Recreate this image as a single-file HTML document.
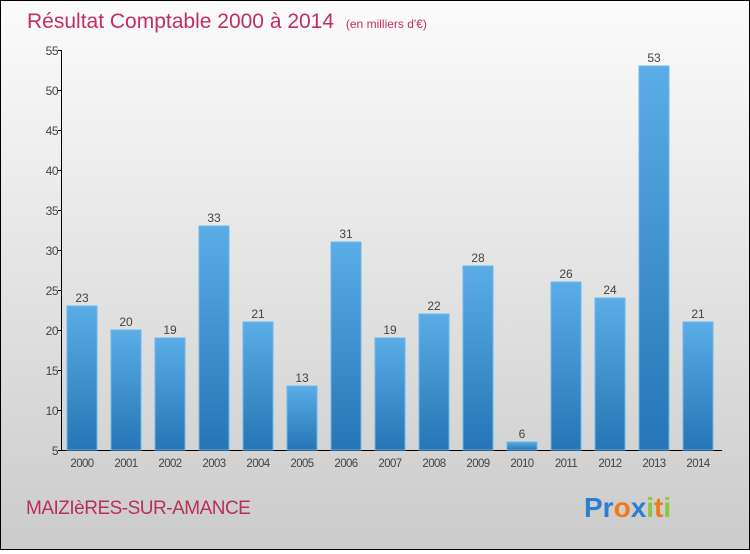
<!DOCTYPE html>
<html><head><meta charset="utf-8"><style>
html,body{margin:0;padding:0}
body{width:750px;height:550px;overflow:hidden;font-family:"Liberation Sans",sans-serif}
#wrap{position:absolute;left:0;top:0;width:748px;height:548px;border:1px solid #000;background:linear-gradient(#fbfbfb,#f2f2f2 20%,#cbcbcb)}
</style></head><body>
<div id="wrap">
<svg width="748" height="548" xmlns="http://www.w3.org/2000/svg">
<defs><linearGradient id="bg" x1="0" y1="0" x2="0" y2="1"><stop offset="0" stop-color="#5aade6"/><stop offset="1" stop-color="#2675b5"/></linearGradient></defs>
<text x="26" y="27" font-size="21" fill="#c0305e">Résultat Comptable 2000 à 2014 <tspan font-size="12" dx="6">(en milliers d'€)</tspan></text>
<g id="plot"></g>
<text x="25" y="513" font-size="19" fill="#b83058" letter-spacing="-0.5">MAIZIèRES-SUR-AMANCE</text>
<text x="583" y="516" font-size="28" font-weight="bold"><tspan fill="#2b7fcf">Pr</tspan><tspan fill="#f07a1a">o</tspan><tspan fill="#2b7fcf">x</tspan><tspan fill="#8cc63f">i</tspan><tspan fill="#f07a1a">t</tspan><tspan fill="#8cc63f">i</tspan></text>
</svg></div>
<script>
const years=["2000","2001","2002","2003","2004","2005","2006","2007","2008","2009","2010","2011","2012","2013","2014"];
const values=[23,20,19,33,21,13,31,19,22,28,6,26,24,53,21];
const yTicks=[5,10,15,20,25,30,35,40,45,50,55];
const NS="http://www.w3.org/2000/svg";
const g=document.getElementById('plot');
const y=v=>450-(v-5)*8-1;
const x=i=>66+i*44;
function mk(t,a){const e=document.createElementNS(NS,t);for(const k in a)e.setAttribute(k,a[k]);g.appendChild(e);return e;}
let ax=mk('line',{x1:60.5,y1:49,x2:60.5,y2:449.5,stroke:'#000'});


let xa=mk('line',{x1:60,y1:449.5,x2:721,y2:449.5,stroke:'#000'});


yTicks.forEach(t=>{
 mk('line',{x1:57,x2:61,y1:y(t)+0.5,y2:y(t)+0.5,stroke:'#000'});
 const l=mk('text',{x:57,y:y(t)+5,'font-size':12,'text-anchor':'end',fill:'#444','letter-spacing':'-0.5'});
 l.textContent=t;
 
 
});
values.forEach((v,i)=>{
 const b=mk('rect',{x:x(i),y:y(v),width:30,height:449-y(v),fill:'url(#bg)',stroke:'#6bb8ee','stroke-width':1});
 
 
 const t=mk('text',{x:x(i)+15,y:y(v)-4,'font-size':12,'text-anchor':'middle',fill:'#444'});
 t.textContent=v;
 
 
 const c=mk('text',{x:x(i)+15,y:466,'font-size':11.5,'text-anchor':'middle',fill:'#444','letter-spacing':'-0.6'});
 c.textContent=years[i];
 
 
});
</script>
</body></html>
